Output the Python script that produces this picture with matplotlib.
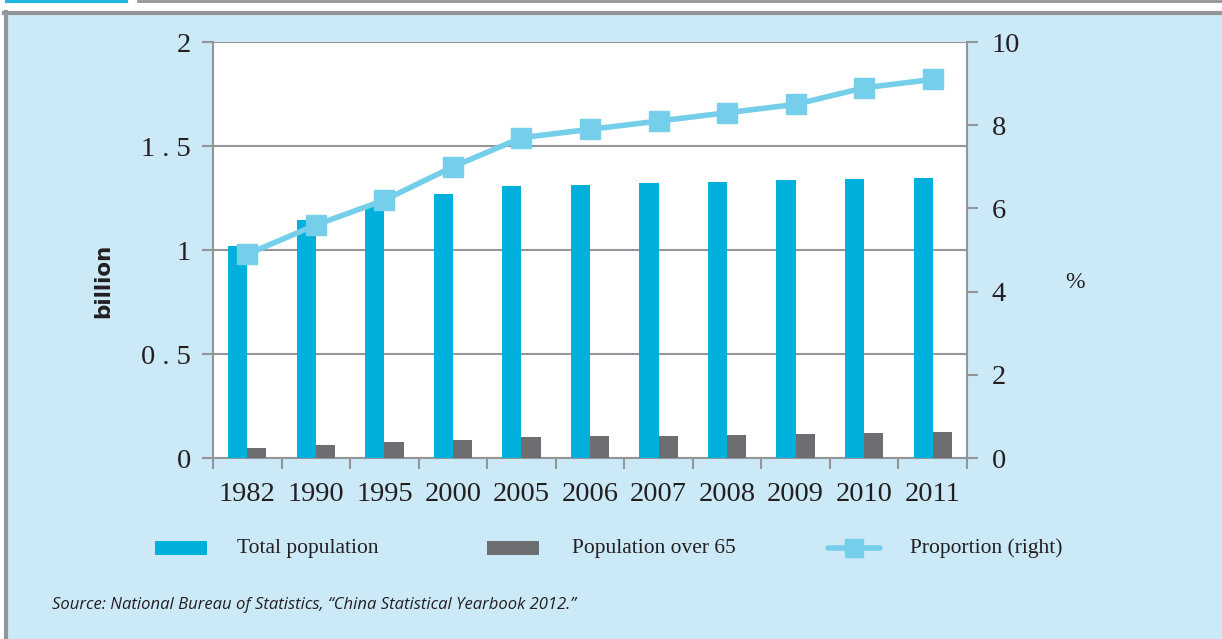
import numpy as np
import matplotlib
matplotlib.use("Agg")
import matplotlib.pyplot as plt
from matplotlib.patches import Rectangle
from matplotlib.lines import Line2D

# data
years = ['1982', '1990', '1995', '2000', '2005', '2006', '2007', '2008', '2009', '2010', '2011']
total_pop = [1.017, 1.143, 1.211, 1.267, 1.308, 1.314, 1.321, 1.328, 1.335, 1.341, 1.347]
over_65 = [0.049, 0.063, 0.076, 0.088, 0.101, 0.104, 0.106, 0.110, 0.113, 0.119, 0.123]
proportion = [4.9, 5.6, 6.2, 7.0, 7.7, 7.9, 8.1, 8.3, 8.5, 8.9, 9.1]
left_ticks = [0, 0.5, 1, 1.5, 2]
left_labels = ['0', '0 . 5', '1', '1 . 5', '2']
right_ticks = [0, 2, 4, 6, 8, 10]

W, H = 1222, 639
BG = '#CBE9F6'
BLUE = '#00B0DC'
GRAY = '#6D6E71'
LINE = '#76CFEA'
FRAME = '#939598'
INK = '#231F20'
SERIF = 'Liberation Serif'

fig = plt.figure(figsize=(W / 100, H / 100), dpi=100)
fig.patch.set_facecolor('white')

# light blue panel, gray frame only on the left and top
fig.add_artist(Rectangle((5 / W, 0), 1.0, (639 - 13) / H, transform=fig.transFigure,
                         facecolor=BG, edgecolor='none', zorder=0))
fig.add_artist(Line2D([5.5 / W, 5.5 / W], [0, 1 - 12 / H], transform=fig.transFigure,
                      color=FRAME, linewidth=3))
fig.add_artist(Line2D([4 / W, 1.0], [1 - 13 / H] * 2, transform=fig.transFigure,
                      color=FRAME, linewidth=3))
# strip at the very top
fig.add_artist(Line2D([7 / W, 126 / W], [1 - 1 / H] * 2, transform=fig.transFigure,
                      color='#1FB6E0', linewidth=3))
fig.add_artist(Line2D([138 / W, 1.0], [1 - 1 / H] * 2, transform=fig.transFigure,
                      color=FRAME, linewidth=2))

ax = fig.add_axes([213 / W, (639 - 458) / H, 754 / W, 416 / H])
ax.set_facecolor('white')
ax.set_zorder(1)

x = np.arange(len(years))
w = 0.28
ax.bar(x - w / 2, total_pop, width=w, color=BLUE, zorder=3)
ax.bar(x + w / 2, over_65, width=w, color=GRAY, zorder=3)

ax.set_xlim(-0.5, len(years) - 0.5)
ax.set_ylim(0, 2)
ax.set_yticks(left_ticks)
ax.set_yticklabels(left_labels)
ax.yaxis.grid(True, color=FRAME, linewidth=1.5, zorder=1)
ax.set_axisbelow(True)

ax.set_xticks(x)
ax.set_xticklabels(years)
ax.set_xticks(np.arange(-0.5, len(years)), minor=True)
ax.tick_params(axis='x', which='major', length=0, pad=17, labelsize=20.5, labelcolor=INK)
ax.tick_params(axis='x', which='minor', length=8, width=1.5, color=FRAME, direction='out')
ax.tick_params(axis='y', length=8, width=1.5, color=FRAME, direction='out', pad=8,
               labelsize=20.5, labelcolor=INK)
for lab in ax.get_xticklabels() + ax.get_yticklabels():
    lab.set_family(SERIF)

for side in ['top', 'right']:
    ax.spines[side].set_visible(False)
for side in ['left', 'bottom']:
    ax.spines[side].set_color(FRAME)
    ax.spines[side].set_linewidth(1.5)

fig.text(103 / W, 1 - 281 / H, 'billion', fontsize=15.5, fontweight='bold', family='DejaVu Sans',
         color=INK, rotation=90, ha='center', va='center')

ax2 = ax.twinx()
ax2.plot(x, proportion, color=LINE, linewidth=4, marker='s', markersize=14,
         markerfacecolor=LINE, markeredgecolor=LINE, zorder=5)
ax2.set_ylim(0, 10)
ax2.set_yticks(right_ticks)
ax2.tick_params(axis='y', length=8, width=1.5, color=FRAME, direction='out', pad=10,
                labelsize=20.5, labelcolor=INK)
for lab in ax2.get_yticklabels():
    lab.set_family(SERIF)
for side in ['top', 'left', 'bottom']:
    ax2.spines[side].set_visible(False)
ax2.spines['right'].set_color(FRAME)
ax2.spines['right'].set_linewidth(1.5)

fig.text(1075 / W, 1 - 283 / H, '%', fontsize=17, family=SERIF, color=INK,
         ha='center', va='center')

# legend drawn by hand to match positions
ly = 1 - 548 / H
fig.add_artist(Rectangle((155 / W, ly - 7 / H), 52 / W, 14 / H, transform=fig.transFigure,
                         facecolor=BLUE, edgecolor='none'))
fig.text(237 / W, ly, 'Total population', fontsize=15.5, family=SERIF, color=INK, va='center')
fig.add_artist(Rectangle((487 / W, ly - 7 / H), 52 / W, 14 / H, transform=fig.transFigure,
                         facecolor=GRAY, edgecolor='none'))
fig.text(572 / W, ly, 'Population over 65', fontsize=15.5, family=SERIF, color=INK, va='center')
fig.add_artist(Line2D([828 / W, 880 / W], [ly, ly], transform=fig.transFigure, color=LINE,
                      linewidth=4, solid_capstyle='round'))
fig.add_artist(Line2D([854 / W], [ly], transform=fig.transFigure, color=LINE,
                      marker='s', markersize=13, linestyle='none'))
fig.text(910 / W, ly, 'Proportion (right)', fontsize=15.5, family=SERIF, color=INK, va='center')

fig.text(52 / W, 1 - 605 / H, 'Source: National Bureau of Statistics, \u201cChina Statistical Yearbook 2012.\u201d',
         fontsize=12, style='italic', family='Open Sans', color=INK, va='center')

fig.savefig('out.png', dpi=100)
